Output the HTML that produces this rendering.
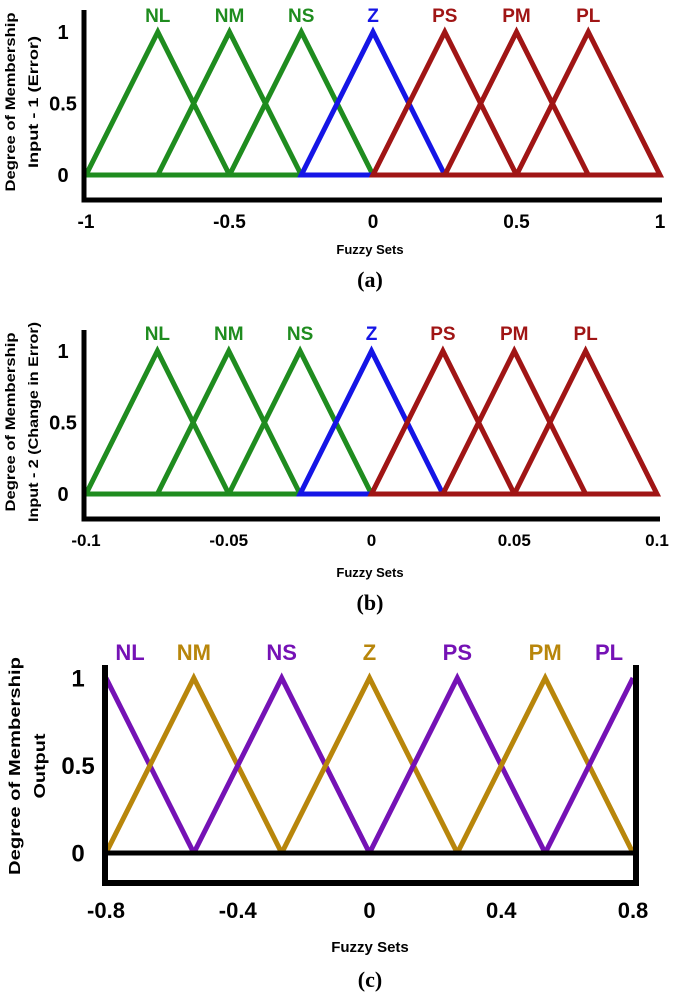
<!DOCTYPE html>
<html><head><meta charset="utf-8"><style>
body{margin:0;background:#fff;}
svg{display:block;font-family:"Liberation Sans",sans-serif;}
</style></head><body>
<svg id="c" width="685" height="1000" viewBox="0 0 685 1000"></svg>
<script>
const setNames=["NL","NM","NS","Z","PS","PM","PL"];
const peaksA=[-0.75,-0.5,-0.25,0,0.25,0.5,0.75];
const halfWidthA=0.25;
const ticksA=[-1,-0.5,0,0.5,1];
const tickLabelsA=["-1","-0.5","0","0.5","1"];
const peaksB=[-0.075,-0.05,-0.025,0,0.025,0.05,0.075];
const halfWidthB=0.025;
const ticksB=[-0.1,-0.05,0,0.05,0.1];
const tickLabelsB=["-0.1","-0.05","0","0.05","0.1"];
const peaksC=[-0.8,-0.5333,-0.2667,0,0.2667,0.5333,0.8];
const halfWidthC=0.2667;
const ticksC=[-0.8,-0.4,0,0.4,0.8];
const tickLabelsC=["-0.8","-0.4","0","0.4","0.8"];
const yTicks=[0,0.5,1];
const yTickLabels=["0","0.5","1"];

const svg=document.getElementById('c');
const NS="http://www.w3.org/2000/svg";
function el(t,a,txt){const e=document.createElementNS(NS,t);for(const k in a)e.setAttribute(k,a[k]);if(txt!==undefined)e.textContent=txt;svg.appendChild(e);return e;}

function panel(cfg){
  const sx=v=>cfg.px0+(v-cfg.xmin)/(cfg.xmax-cfg.xmin)*(cfg.px1-cfg.px0);
  const sy=v=>cfg.py0+(cfg.py1-cfg.py0)*v;
  cfg.peaks.forEach((p,i)=>{
    const a=Math.max(p-cfg.hw,cfg.xmin),b=Math.min(p+cfg.hw,cfg.xmax);
    const ya=1-(p-a)/cfg.hw, yb=1-(b-p)/cfg.hw;
    const pts=[[a,ya],[p,1],[b,yb]];
    let d=pts.map((q,j)=>(j?'L':'M')+sx(q[0]).toFixed(1)+' '+sy(q[1]).toFixed(1)).join(' ');
    if(cfg.closeBase) d+=' Z';
    const path=el('path',{d:d,fill:'none',stroke:cfg.colors[i],'stroke-width':cfg.sw,'stroke-linejoin':'miter'});
    
    
    const t=el('text',{x:sx(p)+(cfg.labelDx?cfg.labelDx[i]:0),y:cfg.labelY,'text-anchor':'middle','font-weight':'bold','font-size':cfg.lfs,fill:cfg.colors[i]},setNames[i]);
    
    
  });
  if(cfg.zeroLine){const z=el('line',{x1:cfg.axL,y1:sy(0),x2:cfg.axR,y2:sy(0),stroke:'#000','stroke-width':5});
    }
  const ax=el('path',{d:`M${cfg.axL} ${cfg.axTop} L${cfg.axL} ${cfg.axB} L${cfg.axR} ${cfg.axB}`+(cfg.rightAxis?` L${cfg.axR} ${cfg.axTop}`:''),fill:'none',stroke:'#000','stroke-width':cfg.axw});
  
  cfg.ticks.forEach((v,i)=>{const t=el('text',{x:sx(v),y:cfg.tickY,'text-anchor':'middle','font-weight':'bold','font-size':cfg.tfs,fill:'#000'},cfg.tickLabels[i]);
    });
  yTicks.forEach((v,i)=>{const t=el('text',{x:cfg.ytx,y:sy(v)+cfg.ytfs*0.36,'text-anchor':'middle','font-weight':'bold','font-size':cfg.ytfs,fill:'#000'},yTickLabels[i]);
    });
  cfg.ytitle.forEach((s,i)=>{
    const yt=el('text',{transform:`translate(${cfg.ytitleXs[i]},${cfg.ytitleY}) rotate(-90)`,x:0,y:0,'text-anchor':'middle','font-weight':'bold','font-size':cfg.yfs,fill:'#000',textLength:cfg.ylens[i],lengthAdjust:'spacingAndGlyphs'},s);
    
  });
  const xt=el('text',{x:cfg.xtitleX,y:cfg.xtitleY,'text-anchor':'middle','font-weight':'bold','font-size':cfg.xfs,fill:'#000'},'Fuzzy Sets');
  
  const cap=el('text',{x:cfg.xtitleX,y:cfg.capY,'text-anchor':'middle','font-weight':'bold','font-size':22,'font-family':'Liberation Serif, serif',fill:'#000'},cfg.cap);
  
}
const G='#1f8c1f',B='#1515e6',R='#a01515',P='#7512b5',O='#b8860b';
panel({id:'panel-a',peaks:peaksA,hw:halfWidthA,xmin:-1,xmax:1,px0:86,px1:660,py0:175,py1:32,
  colors:[G,G,G,B,R,R,R],sw:5,closeBase:true,labelY:22,lfs:19,axL:84,axTop:10,axB:200,axR:662,axw:5,
  ticks:ticksA,tickLabels:tickLabelsA,tickY:228,tfs:19,ytx:63,ytfs:20,ytitle:['Degree of Membership','Input - 1 (Error)'],
  ytitleXs:[15,38],ylens:[179,132],ytitleY:102,yfs:14,xtitleX:370,xtitleY:254,xfs:13,capY:287,cap:'(a)'});
panel({id:'panel-b',peaks:peaksB,hw:halfWidthB,xmin:-0.1,xmax:0.1,px0:86,px1:657,py0:494,py1:351,
  colors:[G,G,G,B,R,R,R],sw:5,closeBase:true,labelY:340,lfs:19,axL:84,axTop:330,axB:519,axR:660,axw:5,
  ticks:ticksB,tickLabels:tickLabelsB,tickY:546,tfs:17,ytx:63,ytfs:20,ytitle:['Degree of Membership','Input - 2 (Change in Error)'],
  ytitleXs:[15,38],ylens:[179,200],ytitleY:422,yfs:14,xtitleX:370,xtitleY:577,xfs:13,capY:610,cap:'(b)'});
panel({id:'panel-c',peaks:peaksC,hw:halfWidthC,xmin:-0.8,xmax:0.8,px0:106,px1:633,py0:853,py1:678,
  colors:[P,O,P,O,P,O,P],sw:5,closeBase:false,labelY:660,lfs:22,labelDx:[24,0,0,0,0,0,-24],zeroLine:true,axL:105,axTop:665,axB:883,axR:636,axw:6,rightAxis:true,
  ticks:ticksC,tickLabels:tickLabelsC,tickY:918,tfs:22,ytx:78,ytfs:24,ytitle:['Degree of Membership','Output'],
  ytitleXs:[20,45],ylens:[218,65],ytitleY:766,yfs:16,xtitleX:370,xtitleY:952,xfs:15,capY:987,cap:'(c)'});
</script>
</body></html>
